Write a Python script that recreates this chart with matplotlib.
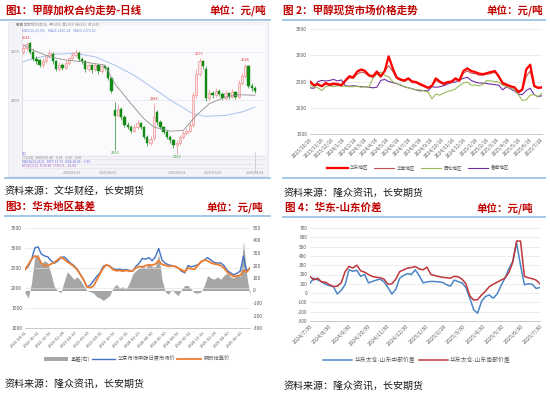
import matplotlib
matplotlib.use('Agg')
import matplotlib.pyplot as plt
import numpy as np
import pandas as pd
from matplotlib.lines import Line2D
from matplotlib.patches import Rectangle, Patch
from matplotlib.transforms import blended_transform_factory

plt.rcParams['font.family'] = ['Noto Sans CJK SC', 'DejaVu Sans']
plt.rcParams['axes.unicode_minus'] = False

# ---------------- Panel 1 data: candles ----------------
c1_open = [2600,2615,2635,2600,2570,2565,2545,2560,2585,2590,2560,2530,2545,2535,2555,2575,2585,2595,2570,2560,
           2530,2545,2530,2545,2520,2540,2535,2490,2360,2340,2365,2330,2300,2290,2275,2290,2305,2290,2250,2225,
           2245,2350,2310,2290,2270,2250,2235,2215,2225,2250,2265,2275,2300,2420,2510,2560,2530,2410,2430,2420,
           2440,2425,2410,2430,2415,2435,2415,2470,2500,2540,2460,2450]
c1_close = [2615,2630,2600,2570,2560,2545,2560,2585,2595,2560,2530,2545,2535,2555,2575,2585,2600,2570,2560,2530,
            2545,2525,2545,2520,2540,2535,2490,2440,2335,2365,2330,2300,2290,2275,2290,2305,2290,2250,2225,2240,
            2330,2310,2290,2270,2250,2235,2215,2225,2250,2265,2275,2300,2420,2510,2560,2540,2410,2430,2420,2440,
            2425,2410,2430,2415,2435,2415,2470,2500,2540,2460,2450,2440]
c1_high = [2628,2641,2640,2610,2582,2572,2575,2592,2606,2598,2566,2556,2552,2566,2580,2598,2612,2604,2578,2565,
           2556,2550,2552,2550,2548,2546,2540,2496,2392,2386,2372,2340,2310,2298,2302,2318,2312,2296,2258,2252,
           2388,2362,2318,2296,2278,2258,2242,2236,2258,2272,2286,2312,2436,2528,2575,2568,2540,2446,2440,2452,
           2448,2436,2442,2436,2446,2440,2484,2512,2548,2546,2470,2458]
c1_low = [2590,2606,2592,2560,2548,2536,2538,2552,2576,2550,2520,2522,2524,2528,2546,2566,2578,2562,2550,2518,
          2522,2512,2520,2510,2512,2526,2482,2430,2196,2330,2320,2290,2280,2266,2268,2282,2280,2240,2214,2216,
          2236,2300,2282,2260,2240,2226,2205,2180,2218,2242,2258,2268,2292,2410,2500,2530,2398,2402,2410,2412,
          2416,2400,2402,2406,2408,2404,2408,2462,2492,2450,2440,2432]
mark_hi = [1, 40, 54, 68]
mark_lo = [28, 47]
ma_gray_idx = [0, 3, 8, 13, 18, 25, 28, 33, 37, 40, 45, 49, 53, 57, 62, 66, 71]
ma_gray = [2628, 2607, 2579, 2566, 2559, 2545, 2469, 2386, 2324, 2290, 2273, 2276, 2338, 2386, 2414, 2423, 2421]
ma_blue_idx = [0, 3, 10, 16, 22, 28, 34, 40, 46, 52, 56, 62, 67, 71]
ma_blue = [2559, 2572, 2590, 2593, 2579, 2545, 2503, 2448, 2393, 2345, 2334, 2338, 2352, 2372]
p1_date_idx = [15, 26, 47, 58, 71]
p1_date_lbl = ['2025/03/03', '2025/04/01', '2025/06/03', '2025/07/01', '2025/08/04']

# ---------------- Panel 2 data ----------------
p2_names = ['华东地区', '华南地区', '西北地区', '鲁南地区']
p2_huadong = [2500,2430,2450,2410,2470,2440,2460,2450,2430,2520,2600,2580,2690,2730,2700,2620,2600,2690,2600,2700,
              2980,2760,2580,2540,2520,2560,2500,2490,2450,2420,2380,2420,2560,2500,2460,2490,2500,2560,2520,2700,
              2750,2700,2680,2650,2640,2660,2680,2700,2600,2470,2440,2410,2390,2300,2350,2730,2820,2420,2380,2390]
p2_huanan = [2480,2420,2430,2400,2450,2420,2440,2430,2420,2500,2570,2560,2640,2680,2660,2600,2580,2650,2580,2700,
             2800,2700,2560,2520,2500,2540,2480,2470,2430,2400,2370,2400,2520,2480,2440,2470,2480,2540,2500,2660,
             2700,2660,2650,2620,2620,2640,2650,2680,2580,2450,2420,2400,2380,2290,2330,2600,2700,2400,2370,2380]
p2_xibei = [2430,2400,2380,2330,2400,2420,2400,2420,2410,2410,2400,2400,2410,2390,2400,2390,2560,2650,2680,2620,
            2590,2500,2460,2440,2400,2380,2360,2340,2340,2320,2300,2170,2260,2240,2280,2310,2330,2360,2420,2470,
            2490,2430,2430,2420,2440,2520,2510,2500,2490,2430,2400,2380,2350,2250,2140,2150,2240,2250,2210,2280]
p2_lunan = [2380,2370,2500,2520,2510,2520,2540,2510,2530,2420,2410,2420,2410,2400,2400,2390,2380,2390,2520,2540,
            2500,2480,2460,2430,2400,2380,2360,2340,2320,2330,2320,2400,2390,2400,2420,2450,2480,2490,2530,2560,
            2580,2520,2490,2470,2470,2460,2450,2440,2430,2340,2400,2360,2320,2260,2250,2330,2370,2250,2210,2230]
p2_ticks = ['2023/10/16','2023/11/16','2023/12/16','2024/1/16','2024/2/16','2024/3/16','2024/4/16','2024/5/16',
            '2024/6/16','2024/7/16','2024/8/16','2024/9/16','2024/10/16','2024/11/16','2024/12/16','2025/1/16',
            '2025/2/16','2025/3/16','2025/4/16','2025/5/16','2025/6/16','2025/7/16']
p2_yticks = [1500, 2000, 2500, 3000, 3500]

# ---------------- Panel 3 data ----------------
p3_names = ['基差(右)', '华东市场甲醇日度市场价', '期货结算价']
p3_spot = [2460,2540,2710,3000,3030,2850,2800,2780,2680,2620,2670,2760,2780,2700,2620,2560,2470,2340,2200,2030,
           2070,2180,2290,2380,2540,2580,2550,2480,2460,2470,2450,2460,2440,2420,2540,2620,2740,2720,2760,2680,
           2780,2990,2700,2620,2580,2560,2540,2500,2420,2380,2560,2530,2550,2580,2650,2700,2760,2700,2640,2620,
           2630,2560,2440,2380,2330,2370,2420,2800,2420,2500]
p3_fut = [2460,2580,2720,2800,2780,2620,2560,2560,2600,2640,2700,2770,2720,2650,2600,2540,2460,2330,2200,2030,
          2010,2050,2200,2350,2500,2580,2540,2460,2430,2440,2420,2440,2420,2430,2500,2540,2530,2560,2580,2570,
          2600,2680,2590,2570,2540,2550,2540,2500,2450,2410,2500,2480,2470,2560,2660,2700,2680,2630,2600,2590,
          2560,2500,2400,2330,2290,2300,2320,2430,2400,2500]
p3_basis = [-20,-60,60,270,290,210,240,220,130,30,0,-20,70,150,120,90,110,80,40,0,
            -10,-20,-50,-60,-80,-60,-40,20,50,20,30,10,60,130,160,180,200,180,220,190,
            190,290,90,-10,-30,10,-20,-40,10,40,40,10,-20,-20,-10,40,120,100,90,110,
            90,120,140,110,100,130,110,390,120,-40]
p3_ticks = ['2022-08-31','2022-10-31','2022-12-31','2023-02-28','2023-04-30','2023-06-30','2023-08-31',
            '2023-10-31','2023-12-31','2024-02-29','2024-04-30','2024-06-30','2024-08-31','2024-10-31',
            '2024-12-31','2025-02-28','2025-04-30','2025-06-30']
p3_yticks_l = [1000, 1500, 2000, 2500, 3000, 3500]
p3_yticks_r = [-300, -200, -100, 0, 100, 200, 300, 400, 500]

# ---------------- Panel 4 data ----------------
p4_names = ['华东太仓-山东中部价差', '华东太仓-山东南部价差']
p4_mid = [106,160,142,120,95,80,70,-10,30,90,250,235,245,180,200,110,125,140,150,120,
          60,-10,40,160,190,210,200,250,190,110,120,125,125,120,115,90,75,140,124,110,
          60,-55,-180,-216,-90,-37,-20,-55,-10,80,160,260,340,540,300,90,100,95,50,60]
p4_south = [178,142,160,120,117,90,70,75,110,230,286,270,300,240,225,200,178,170,165,150,
            95,100,150,230,250,268,275,286,260,250,280,200,190,178,170,165,160,180,175,150,
            100,-30,-75,-70,-20,20,70,95,117,140,160,220,330,560,560,180,165,155,140,100]
p4_ticks = ['2024/7/30','2024/8/30','2024/9/30','2024/10/30','2024/11/30','2024/12/30','2025/1/30',
            '2025/2/28','2025/3/30','2025/4/30','2025/5/30','2025/6/30','2025/7/30']
p4_yticks = [-300, -200, -100, 0, 100, 200, 300, 400, 500, 600, 700]

# ---------------- figure helpers ----------------
W, H = 550, 395
fig = plt.figure(figsize=(5.5, 3.95), dpi=100)
fig.patch.set_facecolor('white')

def fx(x): return x / W
def fy(y): return 1 - y / H
def add_ax(x0, y0, x1, y1, **kw):
    return fig.add_axes([fx(x0), fy(y1), (x1 - x0) / W, (y1 - y0) / H], **kw)
def ftext(x, y, s, **kw):
    kw.setdefault('va', 'center')
    return fig.text(fx(x), fy(y), s, **kw)
def hline(x0, x1, y, color='#9dc3e6', lw=1.3):
    fig.add_artist(Line2D([fx(x0), fx(x1)], [fy(y), fy(y)], color=color, lw=lw))

TITLE_C = '#c00000'
TFS = 7.6
for (x, y, s, ha) in [(5, 10, '图1：甲醇加权合约走势-日线', 'left'), (266, 10, '单位：元/吨', 'right'),
                      (283, 10, '图 2：甲醇现货市场价格走势', 'left'), (543, 10, '单位：元/吨', 'right'),
                      (5, 207, '图3：华东地区基差', 'left'), (263, 207, '单位：元/吨', 'right'),
                      (285, 208, '图 4：华东-山东价差', 'left'), (533, 208, '单位：元/吨', 'right')]:
    ftext(x, y, s, ha=ha, color=TITLE_C, fontsize=TFS, fontweight='bold')

hline(0, 270, 20); hline(283, 545, 20)
hline(5, 270, 178); hline(283, 545, 178)
hline(5, 270, 216); hline(283, 545, 217)

SFS = 7.2
ftext(5, 191, '资料来源：文华财经，长安期货', fontsize=SFS, color='#1a1a1a')
ftext(284, 193, '资料来源：隆众资讯，长安期货', fontsize=SFS, color='#1a1a1a')
ftext(5, 384, '资料来源：隆众资讯，长安期货', fontsize=SFS, color='#1a1a1a')
ftext(284, 386, '资料来源：隆众资讯，长安期货', fontsize=SFS, color='#1a1a1a')

GRAY_T = '#595959'

# ---------------- Panel 1 ----------------
fig.add_artist(Rectangle((fx(8), fy(176)), (268 - 8) / W, (176 - 22) / H, transform=fig.transFigure,
                         facecolor='#f4f4f8', edgecolor='#e2e2e8', lw=0.5, zorder=0))
ax1 = add_ax(22, 25, 265, 155)
ax1.set_facecolor('#fbfbfd')
n1 = len(c1_open)
xs = np.arange(n1)
o = np.array(c1_open); c = np.array(c1_close); hi = np.array(c1_high); lo = np.array(c1_low)
up = c >= o
wick_col = np.where(up, '#f08a8a', '#1c8c1c')
ax1.vlines(xs, lo, hi, colors=wick_col, lw=0.5, zorder=2)
body_b = np.minimum(o, c)
body_h = np.maximum(np.abs(c - o), 2)
ax1.bar(xs[up], body_h[up], bottom=body_b[up], width=0.72, facecolor='#fde3e3', edgecolor='#ef7f7f', lw=0.4, zorder=3)
ax1.bar(xs[~up], body_h[~up], bottom=body_b[~up], width=0.72, facecolor='#138a13', edgecolor='#138a13', lw=0.3, zorder=3)
ax1.plot(ma_gray_idx, ma_gray, color='#8f8f8f', lw=0.6, zorder=4)
ax1.plot(ma_blue_idx, ma_blue, color='#a8c2ee', lw=0.7, zorder=1)
for i in mark_hi:
    ax1.text(xs[i], c1_high[i] + 8, f'{c1_high[i]}', fontsize=2.8, color='#e04040', ha='center', va='bottom')
for i in mark_lo:
    ax1.text(xs[i], c1_low[i] - 6, f'{c1_low[i]}', fontsize=2.8, color='#2a9a2a', ha='center', va='top', clip_on=False)
ax1.set_xlim(-0.4, 74.06)
ax1.set_ylim(2175, 2710)
for v in [2400, 2600]:
    ax1.axhline(v, color='#e4e4ec', lw=0.5, zorder=0)
ax1.set_yticks([2400, 2600])
ax1.set_yticklabels(['2400', '2600'])
ax1.tick_params(axis='y', length=0, labelsize=2.8, labelcolor='#888888', pad=1.5)
ax1.set_xticks([])
for s in ['top', 'right', 'bottom']:
    ax1.spines[s].set_visible(False)
ax1.spines['left'].set_color('#d6d6de'); ax1.spines['left'].set_linewidth(0.5)
# header texts
ftext(16, 25.5, '■■ 甲醇加权(日线)   开2450  高2458  低2432  收2440', fontsize=2.5, color='#9a9a9a')
ftext(22, 30.5, 'MA5(10,20,60)    MA21 2420.24    MA60 2372.82', fontsize=2.5, color='#6f8fd6')
# indicator area
trans1 = blended_transform_factory(ax1.transData, fig.transFigure)
for yy in [155.5, 159.5, 163.5, 167.5]:
    hline(22, 265, yy, color='#dedee6', lw=0.4)
ftext(22, 153.5, 'CCI', fontsize=2.4, color='#5577cc')
ftext(22, 157.5, 'CCI(14)   4086913.48    0.28   -0.36    0.00', fontsize=2.4, color='#8a8a8a')
ftext(22, 161.5, 'MACD(12,26,9)   DIFF 13.73   DEA 18.46   -9.39', fontsize=2.4, color='#6a6adf')
ftext(22, 165.5, 'KDJ(9,3,3)   K 26.89   D 36.71   J 8.04', fontsize=2.4, color='#b060d0')
ax1.plot([xs[-1], xs[-1]], [fy(152), fy(171)], transform=trans1, color='#a0a0a0', lw=0.5, ls=(0, (2, 1.5)), clip_on=False)
for i, lbl in zip(p1_date_idx, p1_date_lbl):
    ax1.text(xs[i], fy(172.5), lbl, transform=trans1, fontsize=2.6, color='#8a8a8a', ha='center', va='center')

# ---------------- common styling ----------------
def style_excel(ax, grid_vals, ylabel_fs):
    for s in ['top', 'right', 'left']:
        ax.spines[s].set_visible(False)
    ax.spines['bottom'].set_color('#bfbfbf'); ax.spines['bottom'].set_linewidth(0.6)
    for v in grid_vals:
        ax.axhline(v, color='#e3e3e3', lw=0.45, zorder=0)
    ax.tick_params(axis='both', length=0, labelcolor=GRAY_T)
    ax.tick_params(axis='y', labelsize=ylabel_fs, pad=2)

def set_date_ticks(ax, labels, fmt_in, fs):
    pos = pd.to_datetime(labels, format=fmt_in)
    ax.set_xticks(pos)
    ax.set_xticklabels(labels, rotation=45, ha='right', va='top', rotation_mode='anchor', fontsize=fs, color=GRAY_T)
    ax.tick_params(axis='x', pad=2)

# ---------------- Panel 2 ----------------
ax2 = add_ax(310, 29, 542, 134)
d2 = pd.date_range('2023-10-16', '2025-07-20', periods=len(p2_huadong))
ax2.plot(d2, p2_lunan, color='#7030a0', lw=0.8, label=p2_names[3])
ax2.plot(d2, p2_xibei, color='#9bbb59', lw=0.8, label=p2_names[2])
ax2.plot(d2, p2_huanan, color='#c0504d', lw=0.8, label=p2_names[1])
ax2.plot(d2, p2_huadong, color='#ff0000', lw=1.6, label=p2_names[0])
ax2.set_ylim(1500, 3500)
ax2.set_yticks(p2_yticks)
ax2.set_yticklabels([str(v) for v in p2_yticks])
ax2.set_xlim(d2[0], d2[-1])
style_excel(ax2, p2_yticks[1:], 3.5)
set_date_ticks(ax2, p2_ticks, '%Y/%m/%d', 3.6)
h2, l2 = ax2.get_legend_handles_labels()
order = [3, 2, 1, 0]
fig.legend([h2[i] for i in order], [l2[i] for i in order], loc='center', bbox_to_anchor=(fx(418), fy(168)),
           ncol=4, frameon=False, fontsize=3.3, handlelength=4.5, columnspacing=1.2, handletextpad=0.5,
           labelcolor=GRAY_T)

# ---------------- Panel 3 ----------------
ax3 = add_ax(25, 228, 250, 328)
ax3r = ax3.twinx()
d3 = pd.date_range('2022-08-31', '2025-08-12', periods=len(p3_spot))
ax3r.fill_between(d3, 0, p3_basis, color='#a6a6a6', lw=0, label=p3_names[0])
ax3r.set_ylim(-300, 500)
ax3r.set_yticks(p3_yticks_r)
ax3r.set_yticklabels([str(v) for v in p3_yticks_r])
ax3.plot(d3, p3_spot, color='#4472c4', lw=1.0, label=p3_names[1])
ax3.plot(d3, p3_fut, color='#ed7d31', lw=1.3, label=p3_names[2])
ax3.set_ylim(1000, 3500)
ax3.set_yticks(p3_yticks_l)
ax3.set_yticklabels([str(v) for v in p3_yticks_l])
ax3.set_xlim(d3[0], d3[-1])
ax3.set_zorder(ax3r.get_zorder() + 1)
ax3.patch.set_visible(False)
style_excel(ax3, p3_yticks_l[1:], 3.6)
for s in ['top', 'right', 'left', 'bottom']:
    ax3r.spines[s].set_visible(False)
ax3r.tick_params(axis='y', length=0, labelsize=3.6, labelcolor=GRAY_T, pad=2)
set_date_ticks(ax3, p3_ticks, '%Y-%m-%d', 3.0)
h3 = [Patch(facecolor='#a6a6a6', edgecolor='none'),
      Line2D([], [], color='#4472c4', lw=1.0), Line2D([], [], color='#ed7d31', lw=1.3)]
fig.legend(h3, p3_names, loc='center', bbox_to_anchor=(fx(137), fy(359)), ncol=3, frameon=False,
           fontsize=3.8, handlelength=4.5, handleheight=0.9, columnspacing=0.4, handletextpad=0.4,
           labelcolor=GRAY_T)

# ---------------- Panel 4 ----------------
ax4 = add_ax(310, 228, 540, 321)
d4 = pd.date_range('2024-07-30', '2025-07-30', periods=len(p4_mid))
ax4.plot(d4, p4_mid, color='#4a86c8', lw=1.1, label=p4_names[0])
ax4.plot(d4, p4_south, color='#c0363c', lw=1.1, label=p4_names[1])
ax4.set_ylim(-300, 700)
ax4.set_yticks(p4_yticks)
ax4.set_yticklabels([str(v) for v in p4_yticks])
ax4.set_xlim(d4[0], d4[-1])
style_excel(ax4, p4_yticks[1:], 3.4)
set_date_ticks(ax4, p4_ticks, '%Y/%m/%d', 3.9)
h4, l4 = ax4.get_legend_handles_labels()
fig.legend(h4, l4, loc='center', bbox_to_anchor=(fx(417), fy(360)), ncol=2, frameon=False,
           fontsize=4.2, handlelength=5, columnspacing=0.6, handletextpad=0.4, labelcolor=GRAY_T)

fig.savefig('out.png', dpi=100, facecolor='white')
